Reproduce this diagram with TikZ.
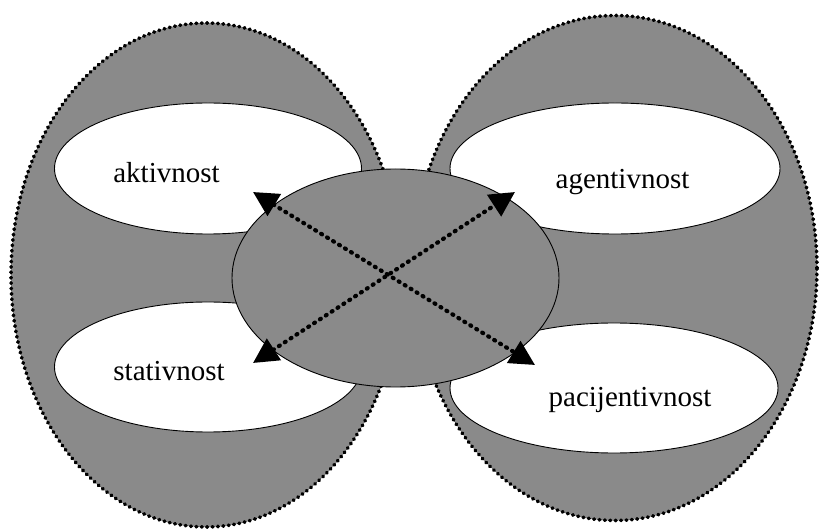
\documentclass[tikz,border=0pt]{standalone}
\usepackage{fontspec}
\setmainfont{Liberation Serif}
\usetikzlibrary{shapes.geometric,arrows.meta}
\definecolor{fillgray}{RGB}{138,138,138}
\tikzset{
  bigoval/.style={ellipse, inner sep=0pt, outer sep=0pt, fill=fillgray, draw=black,
    line width=3.6pt, line cap=round, dash pattern=on 0.8pt off 4.6pt},
  whiteoval/.style={ellipse, inner sep=0pt, outer sep=0pt, fill=white, draw=black, line width=0.9pt},
  centeroval/.style={ellipse, inner sep=0pt, outer sep=0pt, fill=fillgray, draw=black, line width=0.9pt},
  lbl/.style={inner sep=0pt, anchor=base, font=\fontsize{29}{34}\selectfont},
  dotarrow/.style={line width=4.2pt, line cap=round, dash pattern=on 1pt off 6pt,
    {Triangle[length=25pt,width=25pt]}-{Triangle[length=25pt,width=25pt]}}
}
\begin{document}
\begin{tikzpicture}[x=1pt,y=-1pt]
\useasboundingbox (0,0) rectangle (820,529);
\fill[white] (0,0) rectangle (820,529);
% big dotted ovals
\node[bigoval, minimum width=390pt, minimum height=504pt] (leftbig) at (206,275) {};
\node[bigoval, minimum width=404pt, minimum height=505pt] (rightbig) at (615,268) {};
% white ovals
\node[whiteoval, minimum width=307pt, minimum height=131pt] (aktiv) at (208,168.5) {};
\node[whiteoval, minimum width=307pt, minimum height=130pt] (stativ) at (208,367) {};
\node[whiteoval, minimum width=330pt, minimum height=131pt] (agent) at (615,168.5) {};
\node[whiteoval, minimum width=328pt, minimum height=130pt] (pacij) at (614,388) {};
% center oval
\node[centeroval, minimum width=327pt, minimum height=218pt] (center) at (395.5,278) {};
% arrow end points
\coordinate (a1) at (253,192);
\coordinate (b1) at (535,365);
\coordinate (a2) at (253,363);
\coordinate (b2) at (515,192);
\draw[dotarrow] (a1) -- (b1);
\draw[dotarrow] (a2) -- (b2);
% labels
\node[lbl] (taktiv) at (166.5,183) {aktivnost};
\node[lbl] (tstativ) at (169,381) {stativnost};
\node[lbl] (tagent) at (622.5,189) {agentivnost};
\node[lbl] (tpacij) at (630,407) {pacijentivnost};
\end{tikzpicture}
\end{document}
